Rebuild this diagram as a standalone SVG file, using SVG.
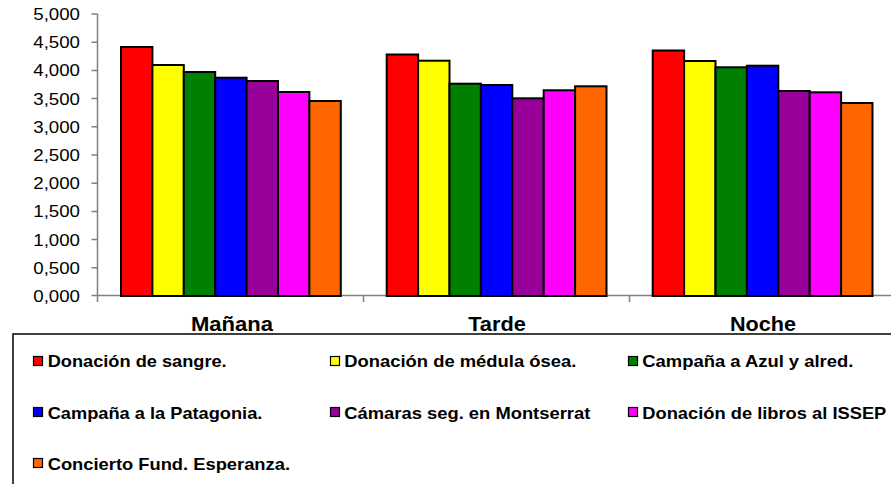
<svg xmlns="http://www.w3.org/2000/svg" width="891" height="484" viewBox="0 0 891 484">
<style>
.ax{stroke:#808080;stroke-width:1.5;fill:none}
.bar{stroke:#000;stroke-width:2}
.tl{font-family:"Liberation Sans",Arial,sans-serif;font-size:16px;fill:#000;text-anchor:end}
.cat{font-family:"Liberation Sans",Arial,sans-serif;font-size:20px;font-weight:bold;fill:#000;text-anchor:middle}
.lg{font-family:"Liberation Sans",Arial,sans-serif;font-size:16.5px;font-weight:bold;fill:#000}
.sw{stroke:#000;stroke-width:1.2}
.s1{fill:#FF0000}.s2{fill:#FFFF00}.s3{fill:#008000}.s4{fill:#0000FF}.s5{fill:#990099}.s6{fill:#FF00FF}.s7{fill:#FF6600}
</style>
<rect width="891" height="484" fill="#fff"/>
<g id="axes">
<line class="ax" x1="97.5" y1="14" x2="97.5" y2="296"/>
<line class="ax" x1="91.5" y1="295.5" x2="891" y2="295.5"/>
<path class="ax" d="M91.5 14H97.5M91.5 42.2H97.5M91.5 70.4H97.5M91.5 98.6H97.5M91.5 126.8H97.5M91.5 155H97.5M91.5 183.2H97.5M91.5 211.4H97.5M91.5 239.6H97.5M91.5 267.8H97.5M97.5 296V302M363.5 296V302M629.5 296V302"/>
</g>
<g id="y-labels">
<text class="tl" x="80" y="20" textLength="46.7" lengthAdjust="spacingAndGlyphs">5,000</text>
<text class="tl" x="80" y="48.2" textLength="46.7" lengthAdjust="spacingAndGlyphs">4,500</text>
<text class="tl" x="80" y="76.4" textLength="46.7" lengthAdjust="spacingAndGlyphs">4,000</text>
<text class="tl" x="80" y="104.6" textLength="46.7" lengthAdjust="spacingAndGlyphs">3,500</text>
<text class="tl" x="80" y="132.8" textLength="46.7" lengthAdjust="spacingAndGlyphs">3,000</text>
<text class="tl" x="80" y="161" textLength="46.7" lengthAdjust="spacingAndGlyphs">2,500</text>
<text class="tl" x="80" y="189.2" textLength="46.7" lengthAdjust="spacingAndGlyphs">2,000</text>
<text class="tl" x="80" y="217.4" textLength="46.7" lengthAdjust="spacingAndGlyphs">1,500</text>
<text class="tl" x="80" y="245.6" textLength="46.7" lengthAdjust="spacingAndGlyphs">1,000</text>
<text class="tl" x="80" y="273.8" textLength="46.7" lengthAdjust="spacingAndGlyphs">0,500</text>
<text class="tl" x="80" y="302" textLength="46.7" lengthAdjust="spacingAndGlyphs">0,000</text>
</g>
<g id="bars-manana">
<rect class="bar s1" x="121" y="47" width="31.4" height="249"/>
<rect class="bar s2" x="152.4" y="65" width="31.4" height="231"/>
<rect class="bar s3" x="183.8" y="72" width="31.4" height="224"/>
<rect class="bar s4" x="215.2" y="77.7" width="31.4" height="218.3"/>
<rect class="bar s5" x="246.6" y="81" width="31.4" height="215"/>
<rect class="bar s6" x="278" y="92" width="31.4" height="204"/>
<rect class="bar s7" x="309.4" y="101" width="31.4" height="195"/>
</g>
<g id="bars-tarde">
<rect class="bar s1" x="386.7" y="54.5" width="31.4" height="241.5"/>
<rect class="bar s2" x="418.1" y="60.7" width="31.4" height="235.3"/>
<rect class="bar s3" x="449.5" y="83.7" width="31.4" height="212.3"/>
<rect class="bar s4" x="480.9" y="85" width="31.4" height="211"/>
<rect class="bar s5" x="512.3" y="98.3" width="31.4" height="197.7"/>
<rect class="bar s6" x="543.7" y="90.3" width="31.4" height="205.7"/>
<rect class="bar s7" x="575.1" y="86.3" width="31.4" height="209.7"/>
</g>
<g id="bars-noche">
<rect class="bar s1" x="652.7" y="50.5" width="31.4" height="245.5"/>
<rect class="bar s2" x="684.1" y="61" width="31.4" height="235"/>
<rect class="bar s3" x="715.5" y="67.3" width="31.4" height="228.7"/>
<rect class="bar s4" x="746.9" y="65.7" width="31.4" height="230.3"/>
<rect class="bar s5" x="778.3" y="91" width="31.4" height="205"/>
<rect class="bar s6" x="809.7" y="92.3" width="31.4" height="203.7"/>
<rect class="bar s7" x="841.1" y="103" width="31.4" height="193"/>
</g>
<g id="x-labels">
<text class="cat" x="232" y="331" textLength="82" lengthAdjust="spacingAndGlyphs">Mañana</text>
<text class="cat" x="497" y="331" textLength="57.7" lengthAdjust="spacingAndGlyphs">Tarde</text>
<text class="cat" x="763" y="331" textLength="66" lengthAdjust="spacingAndGlyphs">Noche</text>
</g>
<g id="legend">
<rect x="13" y="334" width="890" height="170" fill="#fff" stroke="#000" stroke-width="1.5"/>
<g id="leg1"><rect class="sw s1" x="33.5" y="356.5" width="9" height="9"/><text class="lg" x="47.7" y="367" textLength="179" lengthAdjust="spacingAndGlyphs">Donación de sangre.</text></g>
<g id="leg2"><rect class="sw s2" x="330.5" y="356.5" width="9" height="9"/><text class="lg" x="344.3" y="367" textLength="232" lengthAdjust="spacingAndGlyphs">Donación de médula ósea.</text></g>
<g id="leg3"><rect class="sw s3" x="628.5" y="356.5" width="9" height="9"/><text class="lg" x="642.3" y="367" textLength="211" lengthAdjust="spacingAndGlyphs">Campaña a Azul y alred.</text></g>
<g id="leg4"><rect class="sw s4" x="33.5" y="407.5" width="9" height="9"/><text class="lg" x="47.7" y="418.5" textLength="214.7" lengthAdjust="spacingAndGlyphs">Campaña a la Patagonia.</text></g>
<g id="leg5"><rect class="sw s5" x="330.5" y="407.5" width="9" height="9"/><text class="lg" x="344.3" y="418.5" textLength="246" lengthAdjust="spacingAndGlyphs">Cámaras seg. en Montserrat</text></g>
<g id="leg6"><rect class="sw s6" x="628.5" y="407.5" width="9" height="9"/><text class="lg" x="642.3" y="418.5" textLength="244" lengthAdjust="spacingAndGlyphs">Donación de libros al ISSEP</text></g>
<g id="leg7"><rect class="sw s7" x="33.5" y="458.5" width="9" height="9"/><text class="lg" x="47.7" y="470" textLength="242.3" lengthAdjust="spacingAndGlyphs">Concierto Fund. Esperanza.</text></g>
</g>
</svg>
